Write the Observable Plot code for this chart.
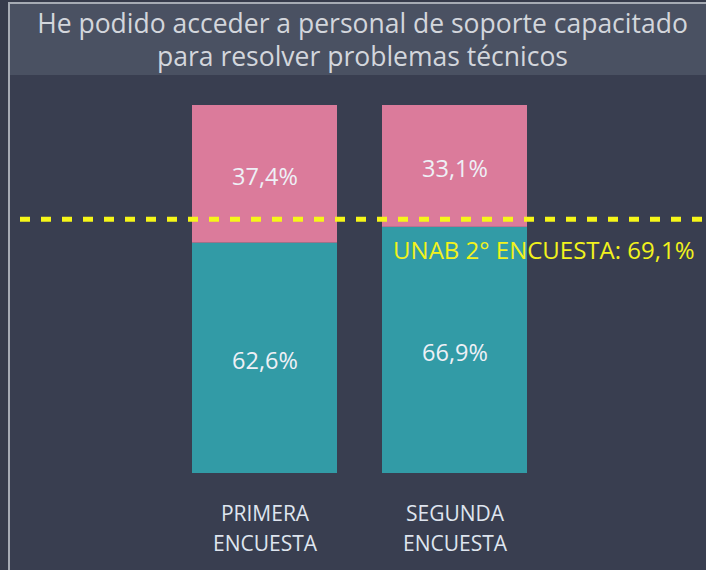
<!DOCTYPE html>
<html>
<head>
<meta charset="utf-8">
<script src="https://cdn.jsdelivr.net/npm/d3@7"></script>
<script src="https://cdn.jsdelivr.net/npm/@observablehq/plot@0.6"></script>
<style>
  html, body { margin: 0; padding: 0; background: #363b4b; width: 706px; height: 570px; overflow: hidden; }
  #frame { position: absolute; left: 8px; top: 2px; width: 696px; height: 566px; border-left: 2px solid #a6abb4; border-top: 2px solid #a6abb4; background: #393e50; }
  #title { height: 71px; background: #4a5162; color: #d3d6dc; font-family: "Open Sans", sans-serif; font-size: 26.5px; line-height: 33px; text-align: center; padding-top: 3px; padding-left: 9px; box-sizing: border-box; letter-spacing: 0px; }
  #chart svg { display: block; }
</style>
</head>
<body>
<div id="frame">
  <div id="title">He podido acceder a personal de soporte capacitado<br>para resolver problemas técnicos</div>
  <div id="chart"></div>
</div>
<script>
const categories = ["PRIMERA\nENCUESTA", "SEGUNDA\nENCUESTA"];
const series = ["Sí", "No"];
const valuesSi = [62.6, 66.9];
const valuesNo = [37.4, 33.1];
const labelsSi = ["62,6%", "66,9%"];
const labelsNo = ["37,4%", "33,1%"];
const referenceValue = 69.1;
const referenceLabel = "UNAB 2° ENCUESTA: 69,1%";

const rows = [];
categories.forEach((c, i) => {
  rows.push({cat: c, serie: series[0], value: valuesSi[i], label: labelsSi[i]});
  rows.push({cat: c, serie: series[1], value: valuesNo[i], label: labelsNo[i]});
});

const font = "'Open Sans', sans-serif";

const chart = Plot.plot({
  width: 696,
  height: 494,
  marginLeft: 10,
  marginRight: 0,
  marginTop: 0,
  marginBottom: 0,
  style: {background: "transparent", fontFamily: font},
  x: {domain: categories, range: [182, 517], paddingInner: 0.237, paddingOuter: 0, label: null},
  y: {domain: [0, 100], range: [398, 30], axis: null},
  color: {domain: series, range: ["#329ba6", "#db7b9b"]},
  marks: [
    Plot.barY(rows, Plot.stackY({x: "cat", y: "value", fill: "serie", z: "serie", order: series})),
    Plot.text(rows, Plot.stackY({x: "cat", y: "value", z: "serie", text: "label", order: series, fill: "#eef0f6", fontSize: 23.5, dy: 3})),
    Plot.ruleY([referenceValue], {stroke: "#f6f619", strokeWidth: 5, strokeDasharray: "10,11"}),
    Plot.text([referenceValue], {y: d => d, text: () => referenceLabel, frameAnchor: "right", textAnchor: "end", dx: -12, dy: 32, fill: "#f2f21c", fontSize: 24}),
    Plot.axisX({tickSize: 0, tickPadding: 0, fontSize: 21, lineHeight: 1.43, fill: "#dfe5ef", anchor: "bottom", dy: -70, label: null})
  ]
});
document.getElementById("chart").appendChild(chart);
</script>
</body>
</html>
